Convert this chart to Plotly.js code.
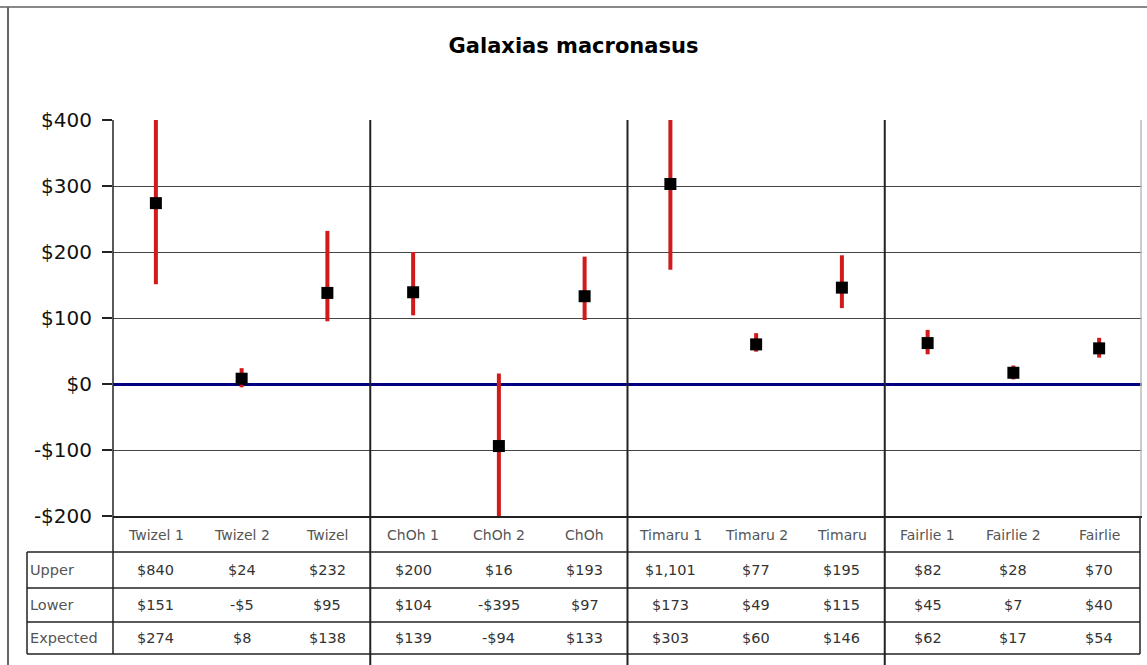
<!DOCTYPE html>
<html>
<head>
<meta charset="utf-8">
<script src="https://cdn.plot.ly/plotly-3.0.1.min.js"></script>
<style>
  html, body { margin: 0; padding: 0; background: #fff; }
  #chart { width: 1147px; height: 665px; }
</style>
</head>
<body>
<div id="chart"></div>
<script>
// ---- data ----
const categories = ['Twizel 1', 'Twizel 2', 'Twizel', 'ChOh 1', 'ChOh 2', 'ChOh',
                    'Timaru 1', 'Timaru 2', 'Timaru', 'Fairlie 1', 'Fairlie 2', 'Fairlie'];
const upper    = [840, 24, 232, 200, 16, 193, 1101, 77, 195, 82, 28, 70];
const lower    = [151, -5, 95, 104, -395, 97, 173, 49, 115, 45, 7, 40];
const expected = [274, 8, 138, 139, -94, 133, 303, 60, 146, 62, 17, 54];
const rowLabels = ['Upper', 'Lower', 'Expected'];
const yTickVals = [-200, -100, 0, 100, 200, 300, 400];
const yTickText = ['-$200', '-$100', '$0', '$100', '$200', '$300', '$400'];
const groupBreaks = [2.5, 5.5, 8.5];

function money(v) {
  const a = Math.abs(v).toString().replace(/\B(?=(\d{3})+(?!\d))/g, ',');
  return (v < 0 ? '-$' : '$') + a;
}

const FONT = 'DejaVu Sans, Arial, sans-serif';

const trace = {
  type: 'scatter',
  mode: 'markers',
  x: categories,
  y: expected,
  marker: { symbol: 'square', size: 12, color: '#000000' },
  error_y: {
    type: 'data',
    symmetric: false,
    array: upper.map((u, i) => u - expected[i]),
    arrayminus: lower.map((l, i) => expected[i] - l),
    color: '#d11a1a',
    thickness: 4,
    width: 0
  },
  hoverinfo: 'x+y',
  showlegend: false
};

// pixel helpers (plot area: left 113, top 120, width 1029, height 396)
const L = 113, T = 120, W = 1029, H = 396;
const px = x => (x - L) / W;
const py = y => (T + H - y) / H;

const shapes = [];
const annotations = [];

// table horizontal lines
[552, 588, 622, 654].forEach(y => {
  shapes.push({ type: 'line', xref: 'paper', yref: 'paper', x0: px(27), x1: px(1140), y0: py(y), y1: py(y),
                line: { color: '#222', width: 1.5 } });
});
// row label box left edge
shapes.push({ type: 'line', xref: 'paper', yref: 'paper', x0: px(27), x1: px(27), y0: py(552), y1: py(654),
              line: { color: '#222', width: 1.5 } });
// plot/table left edge
shapes.push({ type: 'line', xref: 'paper', yref: 'paper', x0: 0, x1: 0, y0: 1, y1: py(654),
              line: { color: '#222', width: 1.5 } });
// table right edge
shapes.push({ type: 'line', xref: 'paper', yref: 'paper', x0: px(1140), x1: px(1140), y0: py(518), y1: py(654),
              line: { color: '#222', width: 1.5 } });
// plot right edge (light)
shapes.push({ type: 'line', xref: 'paper', yref: 'paper', x0: px(1141), x1: px(1141), y0: 1, y1: 0,
              line: { color: '#bbb', width: 1.5 } });
// group separators
groupBreaks.forEach(b => {
  shapes.push({ type: 'line', xref: 'x', yref: 'paper', x0: b, x1: b, y0: py(665), y1: 1,
                line: { color: '#222', width: 2 } });
});
// outer chart border (top + left)
shapes.push({ type: 'line', xref: 'paper', yref: 'paper', x0: px(0), x1: px(1147), y0: py(7), y1: py(7),
              line: { color: '#888', width: 2 } });
shapes.push({ type: 'line', xref: 'paper', yref: 'paper', x0: px(8), x1: px(8), y0: py(7), y1: py(665),
              line: { color: '#666', width: 2 } });

// table text
const rowY = [570, 605, 638];
const rowData = [upper, lower, expected];
categories.forEach((c, i) => {
  annotations.push({ xref: 'x', yref: 'paper', x: c, y: py(535), text: c, showarrow: false,
                     font: { family: FONT, size: 14, color: '#555' }, xanchor: 'center', yanchor: 'middle' });
  rowData.forEach((arr, r) => {
    annotations.push({ xref: 'x', yref: 'paper', x: c, y: py(rowY[r]), text: money(arr[i]), showarrow: false,
                       font: { family: FONT, size: 14.5, color: '#333' }, xanchor: 'center', yanchor: 'middle' });
  });
});
rowLabels.forEach((lab, r) => {
  annotations.push({ xref: 'paper', yref: 'paper', x: px(28), y: py(rowY[r]), text: lab, showarrow: false,
                     font: { family: FONT, size: 14.5, color: '#555' }, xanchor: 'left', yanchor: 'middle' });
});

const layout = {
  width: 1147,
  height: 665,
  margin: { l: L, r: 1147 - L - W, t: T, b: 665 - T - H, pad: 0 },
  paper_bgcolor: '#ffffff',
  plot_bgcolor: '#ffffff',
  title: {
    text: '<b>Galaxias macronasus</b>',
    font: { family: FONT, size: 21, color: '#000' },
    x: 0.5, xref: 'container', xanchor: 'center',
    y: 1 - 46 / 665, yref: 'container', yanchor: 'middle'
  },
  xaxis: {
    type: 'category',
    categoryorder: 'array',
    categoryarray: categories,
    range: [-0.5, categories.length - 0.5],
    showticklabels: false,
    ticks: '',
    showgrid: false,
    zeroline: false,
    showline: true,
    linecolor: '#222',
    linewidth: 1.5,
    fixedrange: true
  },
  yaxis: {
    range: [-200, 400],
    tickvals: yTickVals,
    ticktext: yTickText,
    tickfont: { family: FONT, size: 20, color: '#111' },
    ticks: 'outside',
    ticklen: 10,
    tickcolor: '#222',
    tickwidth: 1.5,
    ticklabelstandoff: 6,
    showgrid: true,
    gridcolor: '#444',
    gridwidth: 1,
    zeroline: true,
    zerolinecolor: '#000080',
    zerolinewidth: 3,
    showline: false,
    fixedrange: true
  },
  shapes: shapes,
  annotations: annotations,
  showlegend: false
};

Plotly.newPlot('chart', [trace], layout, { displayModeBar: false, staticPlot: true });
</script>
</body>
</html>
